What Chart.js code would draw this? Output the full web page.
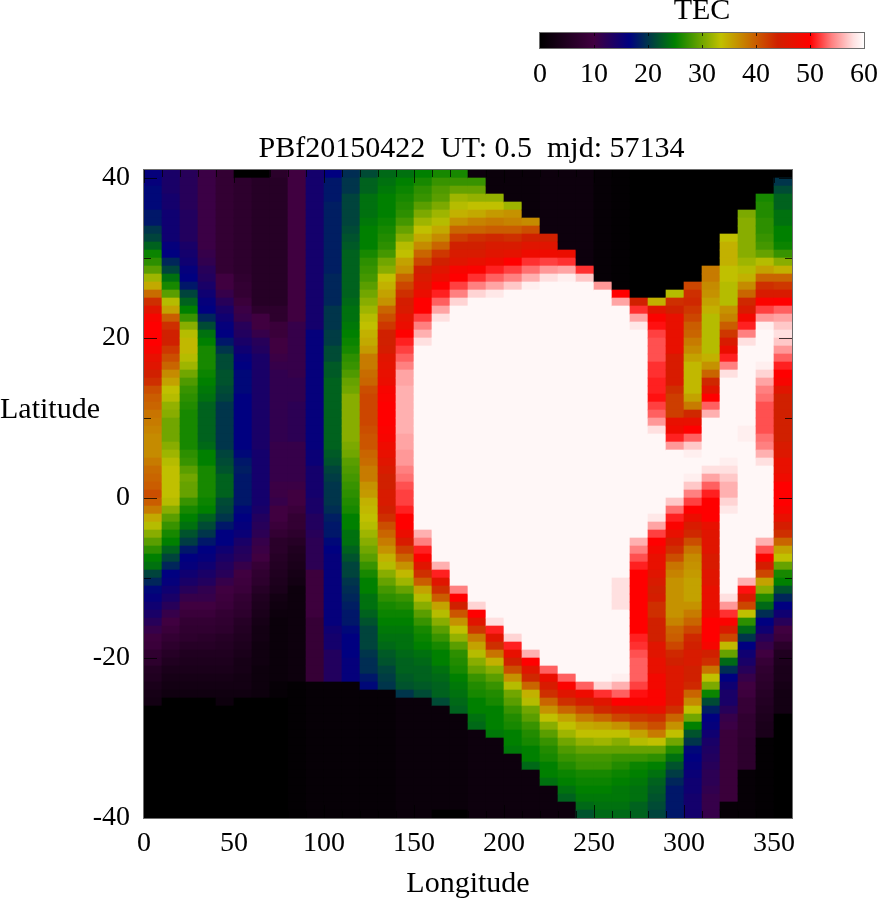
<!DOCTYPE html>
<html>
<head>
<meta charset="utf-8">
<title>PBf20150422 TEC map</title>
<script src="https://cdn.jsdelivr.net/npm/chart.js@4"></script>
<style>
    html, body { margin: 0; padding: 0; background: #fff; }
    #TecChart, #ColorBar { position: absolute; left: 0; top: 0; }
</style>
</head>
<body>
<canvas id="TecChart" width="878" height="900"></canvas>
<canvas id="ColorBar" width="878" height="100"></canvas>
<script>
// longitude bin centres and latitude rows (lower edge of each 1 degree row, top row first)
const lonCenters = [5,15,25,35,45,55,65,75,85,95,105,115,125,135,145,155,165,175,185,195,205,215,225,235,245,255,265,275,285,295,305,315,325,335,345,355];
const latRows = [40,39,38,37,36,35,34,33,32,31,30,29,28,27,26,25,24,23,22,21,20,19,18,17,16,15,14,13,12,11,10,9,8,7,6,5,4,3,2,1,0,
    -1,-2,-3,-4,-5,-6,-7,-8,-9,-10,-11,-12,-13,-14,-15,-16,-17,-18,-19,-20,-21,-22,-23,-24,-25,-26,-27,-28,-29,-30,-31,-32,-33,-34,-35,-36,-37,-38,-39,-40];
const latTicks = [-40,-30,-20,-10,0,10,20,30,40];

// TEC, one list per longitude bin, from lat 40 down to lat -40
const tecLon5 = [16,16,17,17,17,18,18,20,21,23,25.5,27,29,32,35,39,43,46,49,50,50,50,49,47,46,44,43,41,40,39.5,38.5,38,37.5,37,37,37,38,39,39.5,40,41,
    40,38,35,33,31,29,27,25,24,21,19,17,16,15,14,12.5,11,9.5,9,7.5,7,5.5,5,4,3.5,3,0,0,0,0,0,0,0,0,0,0,0,0,0,0];
const tecLon15 = [14,14,14,14.5,14.5,15,15,15,15,16,16.5,19,21,24,26,29,33,35.5,40,43,44,44,42.5,41,39.5,37,35.5,33.5,33,31.5,31,30,30,30,31,32,33,33.5,33.5,33.5,33.5,
    33,31,29,27.5,26,25,23,21,19,16.5,16,15,14,12.5,11,10,9,8,7,6,5,4,3.5,3,2.5,0,0,0,0,0,0,0,0,0,0,0,0,0,0,0];
const tecLon25 = [12.5,12.5,12.5,12.5,12.5,13,13,13,13,14,14.5,15,16,16.5,18,21,23,25,27.5,31,33,34,34,33,32,30,28.5,27.5,27,26.5,26,26,26,26,26,27,27.5,29,30,29.5,29.5,
    27.5,26,25,24,22,20.5,18,16.5,16,15,14,12.5,11,10,9,8,7.5,7,6,5,4.5,4,3.5,3,2.5,0,0,0,0,0,0,0,0,0,0,0,0,0,0,0];
const tecLon35 = [10.5,10.5,10.5,10.5,10.5,10.5,10.5,10.5,10.5,10.5,11,11.5,12.5,13,14,15,16,16.5,19,21.5,24,25,26,26,26,25.5,25,24.5,24,23,23,23,23,23,23.5,25,25,26,26,26,26,
    25.5,25,23,21.5,20,18,16.5,16,15,14,13,11.5,11,10,9,8,7.5,6.5,6,5,4.5,4,3.5,3,2.5,0,0,0,0,0,0,0,0,0,0,0,0,0,0,0];
const tecLon45 = [8,8,8,8,8,8,8,8,8,8,8,8,8,10,10,11,12.5,14,15,16,16.5,18,20,21.5,21.5,22,22,21.5,21,20,20,20,20,20,20,21,21.5,22,23,23,23,
    21.5,21,20,18,16.5,16.5,15,14,13,12.5,11,10,9.5,9,8,7.5,7,6,5.5,5,4.5,4,3.5,3,2.5,2,0,0,0,0,0,0,0,0,0,0,0,0,0,0];
const tecLon55 = [0,7,7,7,7,7,7,7,7,7,7,7,7,7.5,8,8,9,10.5,11,12.5,13,14,15,16,16.5,17,17,17,16.5,16.5,16.5,16.5,16.5,16.5,16.5,17,18,18.5,18,18,18,
    18,17,16.5,16,15.5,14,13,12.5,11,10,9.5,9,8,7.5,7,6,5.5,5,4.5,4,3.5,3.5,3,3,2.5,0,0,0,0,0,0,0,0,0,0,0,0,0,0,0];
const tecLon65 = [0,6,6,6,6,6,6,6,6,6,6,6,6,6,6,6,6,7,10,10,11,12.5,13,14,14,14,14,14,14,14,14,14,14,14,14,14.5,14.5,14.5,14.5,14.5,14.5,
    14.5,14,13,12.5,12,11,10.5,10,8.5,7.5,7,6,5,4.5,4,3.5,3,3,2.5,2.5,2.5,2,2,2,2,0,0,0,0,0,0,0,0,0,0,0,0,0,0,0];
const tecLon75 = [6.5,6,6,6,6,6,6,6,6,6,6,6,6,6,6,6,6,7,7,9,9,10,10,10.5,11,11.5,11.5,11.5,11.5,11.5,11.5,11.5,11.5,11.5,11,11,11,11,11,10.5,10.5,
    11,10,10,9,8,6.5,6.5,6,5.5,5,4.5,4,3,2.5,2,1.5,1.5,1.5,1.5,1.5,1.5,1.5,1.5,1,1,0,0,0,0,0,0,0,0,0,0,0,0,0,0,0];
const tecLon85 = [10,10,10,10,10,10,10,10,10,10,10,10,10,10,10,10,10,10,10,11,11,11,11,11,11,11,11.5,11.5,11.5,12,12,12,12,12,11,11,11,11,11,10.5,10,
    10,9,8,8,7,6,5,4.5,4,3.5,3,2,2,2,2,2,2,2,2,2,2,2,2,0.5,0.5,0.5,0.5,0.5,0.5,0.5,0.5,0.5,0.5,0.5,0.5,0.5,0.5,0.5,0.5,0.5];
const tecLon95 = [14.5,14.5,14.5,14.5,14.5,14.5,14.5,14.5,14.5,14.5,14.5,14.5,14.5,14.5,14.5,14.5,14.5,14.5,14.5,14.5,16,16,16,16,16,16,16,16,16,16,16,16,16,16,16,15.5,15.5,14.5,14.5,14.5,14.5,
    14,14,13,13,12.5,12,12,12,12,9.5,9.5,9.5,9.5,9.5,9.5,8.5,8.5,8.5,8.5,8.5,8.5,8.5,8.5,1,1,1,1,1,1,1,1,1,1,1,1,1,1,1,1,1];
const tecLon105 = [16.5,18,18,18,18.5,18.5,18.5,18.5,18.5,18.5,18.5,18.5,18.5,19,19,19,19,20,20,20,20.5,20.5,21.5,21.5,22.5,22.5,23,23,23,23,23,23,23,23,23,22.5,22,21,20.5,20,20,
    20,19.5,18.5,18,18,17,16.5,16,16,16,16,16,16,16,16,16,15,14.5,14.5,13,13,13,13,1,1,1,1,1,1,1,1,1,1,1,1,1,1,1,1,1];
const tecLon115 = [19.5,20,20,21,21,21,21,21.5,22,22.5,23,23,23,23,23,23,23.5,24,24,24.5,25,25.5,26,27,27.5,28.5,29.5,30,31,31,31,31,31,31,30.5,30,29,28.5,28,27.5,27,
    26.5,26,25,25,24,24,23,22,21,21,20,19.5,19,18.5,18,18,17,16.5,16.5,16.5,16,16,16,1,1,1,1,1,1,1,1,1,1,1,1,1,1,1,1,1];
const tecLon125 = [21.5,23,23,24,24,24,24.5,25,25,25,26,27,27.5,28,29,30,31,32,33,33.5,34.5,35,36,38,38,39,39.5,41,41.5,41.5,41.5,41.5,41,40.5,40.5,39.5,39,38,38,36.5,36,
    34.5,34,33.5,33,32,31,30,29,27.5,26,25,25,24,24,23,22,21,21,21,20,19.5,19.5,18,17,1,1,1,1,1,1,1,1,1,1,1,1,1,1,1,1];
const tecLon135 = [23.5,24,24.5,25,25,25,25.5,26,26.5,27,28,30,31,33.5,34.5,35.5,36.5,39.5,41,42.5,44,44,44.5,46,46.5,47,47.5,49,49.5,50,50,50,49.5,49,48,47,46,45,44,44,45,
    45,44,43,41,39.5,38,36.5,34.5,33,31,29.5,28,27,26,25.5,25,24.5,24,23.5,22.5,22,21,20.5,20,1,1,1,1,1,1,1,1,1,1,1,1,1,1,1,1];
const tecLon145 = [24,25,25.5,26,26.5,27,28,29.5,31,33,33.5,35.5,36.5,39.5,41.5,43,44.5,45,46.5,47.5,50,51,52,53,54,55.5,55.5,56,56,56,56,56,56,55.5,55.5,55,55,54,53.5,52.5,52,
    52,51,50,50,47.5,45,42,39.5,36.5,34,32,29.5,27.5,26.5,25.5,25,24.5,24,24,23.5,23,23,22.5,22,20,1.5,1.5,1.5,1.5,1.5,1.5,1.5,1.5,1.5,1.5,1.5,1.5,1.5,1.5,1.5];
const tecLon155 = [25,26,27,27.5,29,30.5,32,33.5,35,37,39.5,41.5,44,45,46,47.5,50,50,52,54,56,58,59.5,59.5,59.5,59.5,59.5,59.5,59.5,59.5,59.5,59.5,59.5,59.5,59.5,59.5,59.5,59.5,59.5,59.5,59.5,
    59.5,59.5,59.5,59.5,56,54,51,49.5,46,43,40,35.5,33,31,29,27.5,26,25.5,25,24,23.5,23,23,22.5,21.5,1.5,1.5,1.5,1.5,1.5,1.5,1.5,1.5,1.5,1.5,1.5,1.5,1.5,1.5,1.5];
const tecLon165 = [26,27.5,28.5,29,30.5,32,33,35,37,39.5,42.5,44,46,47.5,50,51,53,55.5,58,59.5,59.5,59.5,59.5,59.5,59.5,59.5,59.5,59.5,59.5,59.5,59.5,59.5,59.5,59.5,59.5,59.5,59.5,59.5,59.5,59.5,59.5,
    59.5,59.5,59.5,59.5,59.5,59.5,59.5,59.5,56,51,46,43,40,35.5,33,31,29,27.5,26,25,25,24,23.5,23,23,21.5,1.5,1.5,1.5,1.5,1.5,1.5,1.5,1.5,1.5,1.5,1.5,1.5,1.5];
const tecLon175 = [26,27.5,29.5,32,33,34.5,36.5,39.5,42,44,45,46,49,50,52,54,57.5,59.5,59.5,59.5,59.5,59.5,59.5,59.5,59.5,59.5,59.5,59.5,59.5,59.5,59.5,59.5,59.5,59.5,59.5,59.5,59.5,59.5,59.5,59.5,59.5,
    59.5,59.5,59.5,59.5,59.5,59.5,59.5,59.5,59.5,59.5,59.5,54,50,44,40.5,36.5,33.5,31.5,29,27,26.5,26,25,24.5,24,23.5,23,1.5,1.5,1.5,1.5,1.5,1.5,1.5,1.5,1.5,1.5,1.5,1.5];
const tecLon185 = [2,27.5,29.5,31.5,33.5,35,37.5,39.5,43,44,45,47,49.5,51.5,54,57.5,59.5,59.5,59.5,59.5,59.5,59.5,59.5,59.5,59.5,59.5,59.5,59.5,59.5,59.5,59.5,59.5,59.5,59.5,59.5,59.5,59.5,59.5,59.5,59.5,59.5,
    59.5,59.5,59.5,59.5,59.5,59.5,59.5,59.5,59.5,59.5,59.5,59.5,59.5,57.5,50,46,42.5,38,35.5,33,31,29.5,27.5,26.5,26,25,25,24,23.5,2,2,2,2,2,2,2,2,2,2,2];
const tecLon195 = [1.5,1.5,1.5,31.5,33.5,36,38,40,43.5,45,46,48,51,53,55.5,58.5,59.5,59.5,59.5,59.5,59.5,59.5,59.5,59.5,59.5,59.5,59.5,59.5,59.5,59.5,59.5,59.5,59.5,59.5,59.5,59.5,59.5,59.5,59.5,59.5,59.5,
    59.5,59.5,59.5,59.5,59.5,59.5,59.5,59.5,59.5,59.5,59.5,59.5,59.5,59.5,59.5,58,51,46,43,38.5,34.5,31,29,27.5,26.5,26,25,25,25,24.5,2,2,2,2,2,2,2,2,2,2];
const tecLon205 = [1.5,1.5,1.5,1.5,32,36.5,37.5,40,43,45,46.5,50,52,54,57,59.5,59.5,59.5,59.5,59.5,59.5,59.5,59.5,59.5,59.5,59.5,59.5,59.5,59.5,59.5,59.5,59.5,59.5,59.5,59.5,59.5,59.5,59.5,59.5,59.5,59.5,
    59.5,59.5,59.5,59.5,59.5,59.5,59.5,59.5,59.5,59.5,59.5,59.5,59.5,59.5,59.5,59.5,59.5,57.5,51,47,44,41,36.5,33,30,29,27.5,26.5,26,25,25,24.5,2,2,2,2,2,2,2,2];
const tecLon215 = [1.5,1.5,1.5,1.5,1.5,1.5,37,41,44,46,48,51.5,53.5,56,59,59.5,59.5,59.5,59.5,59.5,59.5,59.5,59.5,59.5,59.5,59.5,59.5,59.5,59.5,59.5,59.5,59.5,59.5,59.5,59.5,59.5,59.5,59.5,59.5,59.5,59.5,
    59.5,59.5,59.5,59.5,59.5,59.5,59.5,59.5,59.5,59.5,59.5,59.5,59.5,59.5,59.5,59.5,59.5,59.5,59.5,56,50,46,43.5,39.5,34.5,33,30,29,27.5,26.5,26,25,25,23.5,2,2,2,2,2,2];
const tecLon225 = [2,2,2,2,2,2,2,2,44,46,48,52,55,58,59.5,59.5,59.5,59.5,59.5,59.5,59.5,59.5,59.5,59.5,59.5,59.5,59.5,59.5,59.5,59.5,59.5,59.5,59.5,59.5,59.5,59.5,59.5,59.5,59.5,59.5,59.5,
    59.5,59.5,59.5,59.5,59.5,59.5,59.5,59.5,59.5,59.5,59.5,59.5,59.5,59.5,59.5,59.5,59.5,59.5,59.5,59.5,59.5,53,47.5,45,43,39.5,36.5,33.5,31,29,27.5,26.5,26,25,25,24,2,2,2,2];
const tecLon235 = [2,2,2,2,2,2,2,2,2,2,47.5,51.5,55.5,59,59.5,59.5,59.5,59.5,59.5,59.5,59.5,59.5,59.5,59.5,59.5,59.5,59.5,59.5,59.5,59.5,59.5,59.5,59.5,59.5,59.5,59.5,59.5,59.5,59.5,59.5,59.5,
    59.5,59.5,59.5,59.5,59.5,59.5,59.5,59.5,59.5,59.5,59.5,59.5,59.5,59.5,59.5,59.5,59.5,59.5,59.5,59.5,59.5,59.5,53,49.5,46,43,39.5,35.5,33.5,32,30,28.5,27.5,26.5,25.5,25,24,23,2,2];
const tecLon245 = [2,2,2,2,2,2,2,2,2,2,2,2,51.5,57,59.5,59.5,59.5,59.5,59.5,59.5,59.5,59.5,59.5,59.5,59.5,59.5,59.5,59.5,59.5,59.5,59.5,59.5,59.5,59.5,59.5,59.5,59.5,59.5,59.5,59.5,59.5,
    59.5,59.5,59.5,59.5,59.5,59.5,59.5,59.5,59.5,59.5,59.5,59.5,59.5,59.5,59.5,59.5,59.5,59.5,59.5,59.5,59.5,59.5,59.5,53,48,44.5,41.5,38,35,33.5,31.5,29.5,28,27.5,26,25.5,25,24.5,23.5,22];
const tecLon255 = [1,1,1,1,1,1,1,1,1,1,1,1,1,1,55,59.5,59.5,59.5,59.5,59.5,59.5,59.5,59.5,59.5,59.5,59.5,59.5,59.5,59.5,59.5,59.5,59.5,59.5,59.5,59.5,59.5,59.5,59.5,59.5,59.5,59.5,
    59.5,59.5,59.5,59.5,59.5,59.5,59.5,59.5,59.5,59.5,59.5,59.5,59.5,59.5,59.5,59.5,59.5,59.5,59.5,59.5,59.5,59.5,59.5,57.5,51.5,46,43.5,39.5,35.5,33.5,32,29.5,28,27.5,26,25.5,25,24.5,24,23.5];
const tecLon265 = [0.5,0.5,0.5,0.5,0.5,0.5,0.5,0.5,0.5,0.5,0.5,0.5,0.5,0.5,0.5,50,55.5,59.5,59.5,59.5,59.5,59.5,59.5,59.5,59.5,59.5,59.5,59.5,59.5,59.5,59.5,59.5,59.5,59.5,59.5,59.5,59.5,59.5,59.5,59.5,59.5,
    59.5,59.5,59.5,59.5,59.5,59.5,59.5,59.5,59.5,59.5,58,58,58,58,59.5,59.5,59.5,59.5,59.5,59.5,59.5,59.5,59,56,53,50,45,41.5,36.5,33.5,31,29.5,27.5,26.5,25.5,25,24.5,24.5,24,23.5];
const tecLon275 = [0,0,0,0,0,0,0,0,0,0,0,0,0,0,0,0,44,51.5,55.5,58.5,59.5,59.5,59.5,59.5,59.5,59.5,59.5,59.5,59.5,59.5,59.5,59.5,59.5,59.5,59.5,59.5,59.5,59.5,59.5,59.5,59.5,
    59.5,59.5,59.5,59.5,59.5,56,54,52.5,51,50,50,50,50,50,50,50,50,51,51.5,52.5,53,53,53,52,50.5,49.5,46,42.5,39.5,35.5,33,29.5,27.5,25.5,25,24.5,24,24,23,23];
const tecLon285 = [0,0,0,0,0,0,0,0,0,0,0,0,0,0,0,0,34.5,46,49.5,50.5,52,52.5,52.5,52.5,51.5,51.5,51,51,50.5,52,53,55,58,59.5,59.5,59.5,59.5,59.5,59.5,59.5,59.5,
    59.5,59.5,58.5,55.5,52,50,48.5,47,47,46,45,44,44.5,43,43,44,44,44,46,46,47,47,48.5,48.5,49.5,49.5,47,43,41,38,33.5,29.5,27,25,24,23,22.5,22,21.5,21];
const tecLon295 = [0,0,0,0,0,0,0,0,0,0,0,0,0,0,0,33,43,44,47,47,47,47,47,45,45,45,45,43,42,42,42,47,48,51,55,59.5,59.5,59.5,59.5,59.5,59.5,
    57,53.5,51,49.5,47,44.5,43,41,38.5,37.5,36.5,36.5,36.5,36.5,36.5,37.5,39.5,40,41.5,43.5,44,45.5,45.5,45.5,45.5,45.5,43,39.5,36.5,33.5,30,26.5,24,22,20.5,19,18,18,18,18];
const tecLon305 = [0,0,0,0,0,0,0,0,0,0,0,0,0,0,41.5,43,43.5,42.5,41.5,40,39.5,38,37,35.5,34,34,34,34,35.5,38,43.5,47,50,53,57,59,59.5,59.5,59,57,54,
    52,50,47.5,45,43.5,41,38.5,37,36.5,36,35.5,35.5,35.5,36.5,38,39.5,41.5,43.5,44,45,45,44,44,43.5,39.5,37,33.5,30,25,22,20,17,16.5,16,15.5,15,15,14.5,14.5,14.5];
const tecLon315 = [0,0,0,0,0,0,0,0,0,0,0,0,38,38,37,36.5,35.5,34.5,33,33,33,33,33,34.5,36.5,39.5,43.5,46,50,53,56,59.5,59.5,59.5,59.5,59.5,59.5,58,55.5,53,51,
    50,50,50,47,46,46,46,45,45,46,46,47,47,47,48,50,50,50,49,44,43,38.5,33.5,30.5,25.5,21.5,18.5,16.5,16,15,14,13.5,13,12.5,12,12,11.5,11,11,11];
const tecLon325 = [0,0,0,0,0,0,0,0,33.5,34.5,34.5,34.5,33.5,33.5,33,33,33,36.5,37.5,40,42.5,45,47.5,51,54,58,59.5,59.5,59.5,59.5,59.5,59.5,59.5,59.5,59.5,59.5,59,58,57,56,56,
    57.5,58.5,59.5,59.5,59.5,59.5,59.5,59.5,59.5,59.5,59.5,59.5,58,55,51.5,49.5,45,41.5,34,29.5,23.5,19.5,16.5,15,14,14,12.5,11,10.5,9,9,9,9,9,9,9,9,9,1,1];
const tecLon335 = [0,0,0,0,0,30.5,31,31,31,31,31,32,33,34.5,37,39.5,43.5,45,48.5,51,54,58,59.5,59.5,59.5,59.5,59.5,59.5,59.5,59.5,59.5,59.5,59,59,59.5,59.5,59.5,59.5,59.5,59.5,59.5,
    59.5,59.5,59.5,59.5,59.5,59.5,59.5,59.5,59.5,59.5,56,50.5,45,41.5,33.5,27,23.5,20,16.5,15,14,12.5,11,10,9.5,8.5,8.5,7.5,7.5,7.5,7,7,7,7,1,1,1,1,1,1];
const tecLon345 = [0,0,0,26,26.5,26.5,27,27,27.5,28,29.5,33,35.5,39.5,43,45,49.5,52,55,59,59.5,59.5,59.5,59.5,59,57.5,55.5,54,53.5,52.5,52.5,52.5,52.5,53.5,54,56,58,59.5,59.5,59.5,59.5,
    59.5,59.5,59.5,59.5,59.5,56,52.5,49.5,44.5,41.5,35.5,31,26.5,23.5,19.5,16.5,15,12.5,11,10,8.5,7.5,7,6.5,6,5.5,5,4.5,4,4,0.5,0.5,0.5,0.5,0.5,0.5,0.5,0.5,0.5,0.5];
const tecLon355 = [0,20,21.5,23,23,24,24,25,25,25.5,27.5,31,34.5,39.5,42.5,45,50,53,55.5,57,58,57,55,53,51,50,49,46,44,44,44,44,44,44,45,45.5,47,47,48,50,50,
    50,49,47,44.5,43,39.5,35.5,33.5,29.5,26,25,22,19,16.5,15,12.5,10,9,6.5,5,4.5,4,4,3.5,3,3,3,0,0,0,0,0,0,0,0,0,0,0,0,0];

const tecColumns = [tecLon5,tecLon15,tecLon25,tecLon35,tecLon45,tecLon55,tecLon65,tecLon75,tecLon85,tecLon95,tecLon105,tecLon115,
    tecLon125,tecLon135,tecLon145,tecLon155,tecLon165,tecLon175,tecLon185,tecLon195,tecLon205,tecLon215,tecLon225,tecLon235,
    tecLon245,tecLon255,tecLon265,tecLon275,tecLon285,tecLon295,tecLon305,tecLon315,tecLon325,tecLon335,tecLon345,tecLon355];

// colour scale
const paletteStops = [0, 10, 16.5, 25, 33.5, 44, 50, 54, 58, 60];
const paletteColors = [[0,0,0],[64,0,64],[0,0,128],[0,128,0],[192,192,0],[208,32,0],[255,0,0],[255,128,128],[255,224,224],[255,254,254]];
const colorBarTicks = [0, 10, 20, 30, 40, 50, 60];

const serif = "'Liberation Serif'";

function TecColor(v){
    let i = 0;
    while(i < paletteStops.length - 2 && v > paletteStops[i + 1]) i++;
    const t = (v - paletteStops[i]) / (paletteStops[i + 1] - paletteStops[i]);
    const c = paletteColors[i].map((a, k) => Math.round(a + (paletteColors[i + 1][k] - a) * t));
    return `rgb(${c[0]}, ${c[1]}, ${c[2]})`;
}

const cells = [];
const cellColors = [];
lonCenters.forEach((lon, c) => {
    latRows.forEach((lat, r) => {
        cells.push({x: lon, y: [lat, lat + 1]});
        cellColors.push(TecColor(tecColumns[c][r]));
    });
});

// gnuplot style frame: thin border, ticks pointing inwards on all four sides
const plotFrame = {
    id: 'plotFrame',
    afterLayout(chart){
        // the title sits a bit right of the plot centre in the original
        chart.titleBlock.left += 3.5;
        chart.titleBlock.right += 3.5;
    },
    afterDatasetsDraw(chart){
        const {ctx, chartArea: a, scales} = chart;
        ctx.save();
        ctx.lineWidth = 1;
        ctx.strokeStyle = "rgba(0, 0, 0, 0.75)";
        ctx.beginPath();
        scales.x.ticks.forEach(t => {
            const px = Math.round(scales.x.getPixelForValue(t.value)) + 0.5;
            const len = t.value % 50 === 0 ? 13 : 7;
            ctx.moveTo(px, a.top); ctx.lineTo(px, a.top + len);
            ctx.moveTo(px, a.bottom); ctx.lineTo(px, a.bottom - len);
        });
        scales.y.ticks.forEach(t => {
            const py = Math.round(scales.y.getPixelForValue(t.value)) + 0.5;
            const len = t.value % 20 === 0 ? 13 : 7;
            ctx.moveTo(a.left, py); ctx.lineTo(a.left + len, py);
            ctx.moveTo(a.right, py); ctx.lineTo(a.right - len, py);
        });
        ctx.stroke();
        ctx.strokeStyle = "rgb(110, 110, 110)";
        ctx.strokeRect(a.left - 0.5, a.top - 0.5, a.width + 1, a.height + 1);
        // horizontal y axis title, chart.js only does rotated ones
        ctx.fillStyle = "#000";
        ctx.font = "30px " + serif;
        ctx.textAlign = "left";
        ctx.textBaseline = "middle";
        ctx.fillText("Latitude", 0, 410);
        ctx.restore();
    }
};

new Chart(document.querySelector('#TecChart'), {
    type: 'bar',
    data: {
        datasets: [{
            label: 'TEC',
            data: cells,
            backgroundColor: cellColors,
            borderWidth: 0,
            categoryPercentage: 1,
            barPercentage: 1,
            grouped: false
        }]
    },
    options: {
        responsive: false,
        animation: false,
        events: [],
        layout: { padding: { left: 0, right: 86, top: 0, bottom: 0 } },
        plugins: {
            legend: { display: false },
            tooltip: { enabled: false },
            title: {
                display: true,
                fullSize: false,
                text: 'PBf20150422  UT: 0.5  mjd: 57134',
                color: '#000',
                font: { family: serif, size: 30, weight: 'normal', lineHeight: '35px' },
                padding: { top: 132, bottom: 3 }
            }
        },
        scales: {
            x: {
                type: 'linear',
                offset: false,
                min: 0,
                max: 360,
                afterFit: s => { s.height = 82; s.paddingLeft = 0; s.paddingRight = 0; },
                grid: { display: false, drawTicks: false },
                border: { display: false },
                ticks: {
                    stepSize: 10,
                    autoSkip: false,
                    maxRotation: 0,
                    color: '#000',
                    padding: 9,
                    font: { family: serif, size: 28 },
                    callback: v => v % 50 === 0 ? v : ''
                },
                title: {
                    display: true,
                    text: 'Longitude',
                    color: '#000',
                    font: { family: serif, size: 30, lineHeight: '32px' },
                    padding: 0
                }
            },
            y: {
                type: 'linear',
                min: -40,
                max: 41,
                afterFit: s => { s.width = 144; s.paddingTop = 0; s.paddingBottom = 0; },
                afterBuildTicks: s => { s.ticks = latTicks.map(value => ({value})); },
                grid: { display: false, drawTicks: false },
                border: { display: false },
                ticks: {
                    autoSkip: false,
                    color: '#000',
                    padding: 14,
                    font: { family: serif, size: 28 },
                    callback: v => v % 20 === 0 ? v : ''
                }
            }
        }
    },
    plugins: [plotFrame]
});

// colour bar on its own small canvas
const colorBarFrame = {
    id: 'colorBarFrame',
    afterDatasetsDraw(chart){
        const {ctx, chartArea: a, scales} = chart;
        ctx.save();
        ctx.lineWidth = 1;
        ctx.strokeStyle = "rgba(0, 0, 0, 0.75)";
        ctx.beginPath();
        scales.x.ticks.forEach(t => {
            const px = Math.round(scales.x.getPixelForValue(t.value)) + 0.5;
            ctx.moveTo(px, a.top); ctx.lineTo(px, a.top + 3);
            ctx.moveTo(px, a.bottom); ctx.lineTo(px, a.bottom - 3);
        });
        ctx.stroke();
        ctx.strokeStyle = "rgb(110, 110, 110)";
        ctx.strokeRect(a.left - 0.5, a.top - 0.5, a.width + 1, a.height + 1);
        ctx.restore();
    }
};

new Chart(document.querySelector('#ColorBar'), {
    type: 'bar',
    data: {
        labels: ['TEC'],
        datasets: [{
            data: [[colorBarTicks[0], colorBarTicks[colorBarTicks.length - 1]]],
            borderWidth: 0,
            categoryPercentage: 1,
            barPercentage: 1,
            backgroundColor: ctx => {
                const x = ctx.chart.scales.x;
                if(!ctx.chart.chartArea || !x) return '#000';
                const g = ctx.chart.ctx.createLinearGradient(x.getPixelForValue(0), 0, x.getPixelForValue(60), 0);
                paletteStops.forEach(v => g.addColorStop(v / 60, TecColor(v)));
                return g;
            }
        }]
    },
    options: {
        indexAxis: 'y',
        responsive: false,
        animation: false,
        events: [],
        layout: { padding: { left: 540, right: 14 } },
        plugins: {
            legend: { display: false },
            tooltip: { enabled: false },
            title: {
                display: true,
                fullSize: false,
                text: 'TEC',
                color: '#000',
                font: { family: serif, size: 30, weight: 'normal', lineHeight: '22px' },
                padding: { top: 0, bottom: 11 }
            }
        },
        scales: {
            x: {
                type: 'linear',
                min: 0,
                max: 60,
                afterFit: s => { s.height = 52; s.paddingLeft = 0; s.paddingRight = 0; },
                grid: { display: false, drawTicks: false },
                border: { display: false },
                ticks: {
                    stepSize: 10,
                    maxRotation: 0,
                    color: '#000',
                    padding: 10,
                    font: { family: serif, size: 28 }
                }
            },
            y: { display: false }
        }
    },
    plugins: [colorBarFrame]
});
</script>
</body>
</html>
